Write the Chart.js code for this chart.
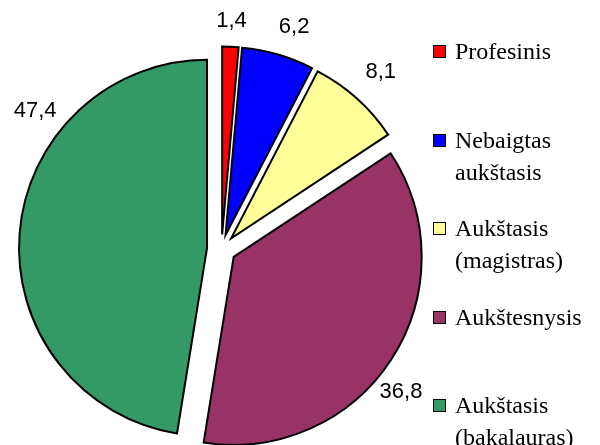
<!DOCTYPE html>
<html>
<head>
<meta charset="utf-8">
<script src="https://cdn.jsdelivr.net/npm/chart.js@4/dist/chart.umd.min.js"></script>
<style>
  html, body { margin: 0; padding: 0; background: #fff; }
  #wrap { position: relative; width: 600px; height: 445px; }
  #legend { position: absolute; left: 433px; top: 0; font-family: "Liberation Serif", "Times New Roman", serif; font-size: 24px; line-height: 32px; color: #000; }
  .item { position: absolute; left: 0; white-space: nowrap; }
  .box { position: absolute; left: 0; top: 10px; width: 11px; height: 11px; border: 1px solid #000; }
  .txt { position: absolute; left: 22px; top: 0; }
</style>
</head>
<body>
<div id="wrap">
  <canvas id="pieChart" width="600" height="445"></canvas>
  <div id="legend"></div>
</div>
<script>
// Kategorijos ir reikšmės (%)
var categories = [
    ['Profesinis'],
    ['Nebaigtas', 'aukštasis'],
    ['Aukštasis', '(magistras)'],
    ['Aukštesnysis'],
    ['Aukštasis', '(bakalauras)']
];
var values = [1.4, 6.2, 8.1, 36.8, 47.4];
var valueLabels = ['1,4', '6,2', '8,1', '36,8', '47,4'];
var colors = ['#FF0000', '#0000FF', '#FFFF99', '#993366', '#339966'];

// Išskleidžia kiekvieną sektorių nuo centro
var explode = {
    id: 'explode',
    afterDatasetUpdate: function(chart, args, opts) {
        args.meta.data.forEach(function(arc) {
            var mid = (arc.startAngle + arc.endAngle) / 2;
            arc.x += Math.cos(mid) * opts.distance;
            arc.y += Math.sin(mid) * opts.distance;
        });
    }
};

// Reikšmių etiketės už sektoriaus krašto
var outsideLabels = {
    id: 'outsideLabels',
    afterDatasetsDraw: function(chart, args, opts) {
        var ctx = chart.ctx;
        var meta = chart.getDatasetMeta(0);
        ctx.save();
        ctx.font = opts.font;
        ctx.fillStyle = opts.color;
        ctx.textAlign = 'center';
        ctx.textBaseline = 'middle';
        meta.data.forEach(function(arc, i) {
            var text = valueLabels[i];
            var a = (arc.startAngle + arc.endAngle) / 2 + opts.shift[i] * Math.PI / 180;
            var c = Math.cos(a), s = Math.sin(a);
            var hw = ctx.measureText(text).width / 2;
            var R = arc.outerRadius + opts.gap[i] + Math.abs(c) * hw + Math.abs(s) * opts.halfHeight;
            ctx.fillText(text, arc.x + c * R, arc.y + s * R);
        });
        ctx.restore();
    }
};

var pieChart = new Chart(document.getElementById('pieChart').getContext('2d'), {
    type: 'pie',
    data: {
        labels: categories,
        datasets: [{
            data: values,
            backgroundColor: colors,
            borderColor: '#000000',
            borderWidth: 2,
            borderJoinStyle: 'miter'
        }]
    },
    options: {
        responsive: false,
        animation: false,
        events: [],
        radius: 188,
        layout: {
            padding: { left: 0, right: 157, top: 53, bottom: 0 }
        },
        plugins: {
            legend: { display: false },
            tooltip: { enabled: false },
            explode: { distance: 14.5 },
            outsideLabels: {
                font: '22px "Liberation Sans", Arial, sans-serif',
                color: '#000000',
                halfHeight: 10,
                shift: [0, 2, 0, 6, 34],
                gap: [15, 17, 18, 4, 9]
            }
        }
    },
    plugins: [explode, outsideLabels]
});

// Legenda (HTML tekstas)
var legend = document.getElementById('legend');
categories.forEach(function(lines, i) {
    var item = document.createElement('div');
    item.className = 'item';
    item.style.top = (35 + i * 88.5) + 'px';
    var box = document.createElement('div');
    box.className = 'box';
    box.style.background = colors[i];
    var txt = document.createElement('div');
    txt.className = 'txt';
    txt.innerHTML = lines.join('<br>');
    item.appendChild(box);
    item.appendChild(txt);
    legend.appendChild(item);
});
</script>
</body>
</html>
